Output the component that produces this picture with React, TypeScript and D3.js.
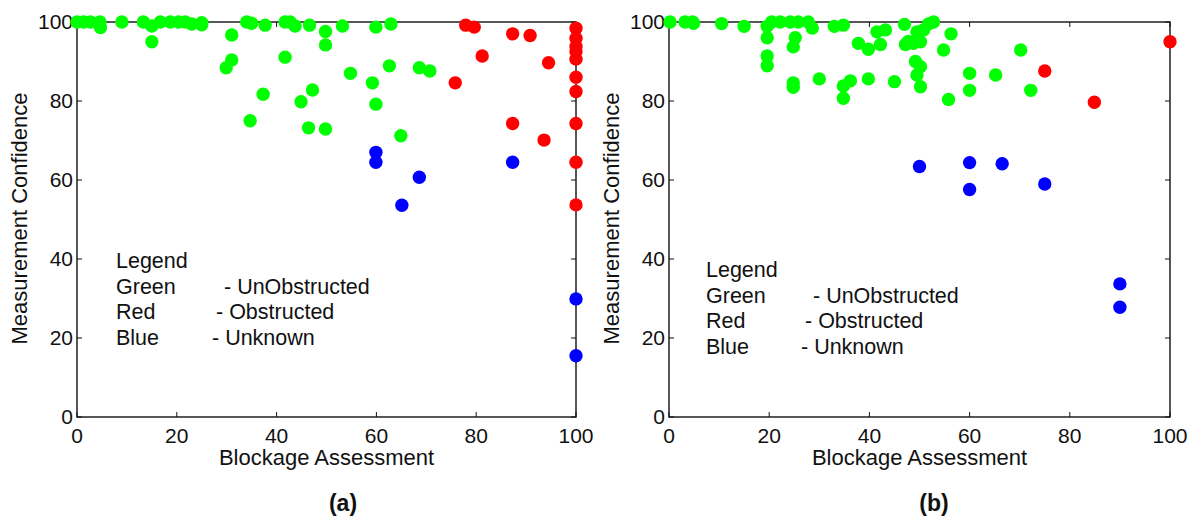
import React, { useEffect, useRef } from 'react';
import * as d3 from 'd3';

// [blockage, confidence] pairs
const leftGreen: [number, number][] = [
  [0, 100], [1.3, 100], [2.7, 100], [4.6, 100], [4.7, 98.6], [9, 100], [13.3, 100], [15, 99], [15, 95],
  [16.7, 100], [18.7, 100], [20.3, 100], [21.7, 100], [23, 99.5], [25, 99.8], [25, 99.3], [29.9, 88.4],
  [31, 90.4], [31, 96.7], [34, 100], [35, 99.7], [37.7, 99.2], [34.7, 75], [37.3, 81.7], [41.7, 100],
  [42.7, 100], [43.7, 99], [41.7, 91.1], [44.9, 79.8], [47.2, 82.8], [46.4, 73.2], [46.6, 99.2],
  [49.8, 97.6], [49.8, 94.2], [49.8, 72.9], [53.2, 99], [59.9, 98.7], [62.9, 99.5], [54.8, 87],
  [59.2, 84.6], [62.6, 88.9], [68.6, 88.4], [70.7, 87.6], [59.9, 79.2], [64.9, 71.2],
];
const leftRed: [number, number][] = [
  [77.9, 99.2], [79.6, 98.7], [87.3, 97], [90.8, 96.6], [81.2, 91.4], [94.5, 89.7], [75.8, 84.6],
  [87.3, 74.3], [93.6, 70.1], [100, 98.4], [100, 95.9], [100, 93.8], [100, 92.5], [100, 90.6],
  [100, 86], [100, 82.4], [100, 74.3], [100, 64.5], [100, 53.7],
];
const leftBlue: [number, number][] = [
  [59.9, 67], [59.9, 64.5], [68.6, 60.7], [65.1, 53.6], [87.3, 64.5], [100, 29.9], [100, 15.5],
];

const rightGreen: [number, number][] = [
  [0.2, 100], [3.2, 100], [4.7, 100], [4.9, 99.7], [10.5, 99.6], [15, 98.9], [19.6, 98.9], [19.6, 96],
  [19.6, 91.4], [19.6, 88.9], [20.5, 100], [22.2, 100], [24.2, 100], [25.8, 100], [27.8, 100],
  [28.6, 98.5], [25.2, 96], [24.8, 93.7], [24.8, 84.6], [24.8, 83.5], [30, 85.6], [33, 98.9],
  [34.8, 99.2], [34.8, 83.8], [34.8, 80.7], [36.2, 85.1], [37.8, 94.6], [39.8, 93.1], [39.8, 85.6],
  [41.5, 97.5], [43.2, 98], [42.2, 94.3], [45, 84.9], [47, 99.4], [47.2, 94.3], [47.8, 95.1],
  [49.5, 97.5], [49.2, 90], [50.2, 88.7], [49.5, 86.6], [50.2, 83.6], [48.8, 94.6], [50.2, 95],
  [50.8, 98], [51.8, 99.5], [52.8, 100], [56.3, 97], [54.8, 92.9], [55.8, 80.4], [60, 87], [60, 82.7],
  [65.2, 86.6], [70.2, 92.9], [72.2, 82.7],
];
const rightRed: [number, number][] = [[100, 95], [75, 87.6], [84.9, 79.7]];
const rightBlue: [number, number][] = [
  [50, 63.4], [60, 64.4], [60, 57.6], [66.5, 64.1], [75, 59], [90, 33.7], [90, 27.8],
];

const tickValues = [0, 20, 40, 60, 80, 100];
const legendLines = [
  ['Legend', ''],
  ['Green', '- UnObstructed'],
  ['Red', '- Obstructed'],
  ['Blue', '- Unknown'],
];

const FONT = '"Liberation Sans", Arial, Helvetica, sans-serif';

const App = () => {
  const svgRef = useRef<SVGSVGElement | null>(null);

  useEffect(() => {
    const svg = d3.select(svgRef.current);
    svg.selectAll('*').remove();

    const panels = [
      {
        left: 77, right: 576, caption: '(a)', captionX: 343,
        legendX: 116, legendY: 268, dashX: [0, 147, 139, 135],
        series: [{ data: leftGreen, color: '#00ff00' }, { data: leftRed, color: '#ff0000' }, { data: leftBlue, color: '#0000ff' }],
        yLabelX: 20,
      },
      {
        left: 669, right: 1170, caption: '(b)', captionX: 934,
        legendX: 706, legendY: 277, dashX: [0, 144, 136, 132],
        series: [{ data: rightGreen, color: '#00ff00' }, { data: rightRed, color: '#ff0000' }, { data: rightBlue, color: '#0000ff' }],
        yLabelX: 612,
      },
    ];
    const top = 22;
    const bottom = 417;

    panels.forEach(p => {
      const x = d3.scaleLinear().domain([0, 100]).range([p.left, p.right]);
      const y = d3.scaleLinear().domain([0, 100]).range([bottom, top]);
      const g = svg.append('g');

      // box
      g.append('rect')
        .attr('x', p.left).attr('y', top)
        .attr('width', p.right - p.left).attr('height', bottom - top)
        .attr('fill', 'none').attr('stroke', '#111').attr('stroke-width', 1.4);

      // inward ticks on all sides
      tickValues.forEach(t => {
        g.append('line').attr('x1', x(t)).attr('x2', x(t)).attr('y1', bottom).attr('y2', bottom - 5).attr('stroke', '#111');
        g.append('line').attr('x1', x(t)).attr('x2', x(t)).attr('y1', top).attr('y2', top + 5).attr('stroke', '#111');
        g.append('line').attr('x1', p.left).attr('x2', p.left + 5).attr('y1', y(t)).attr('y2', y(t)).attr('stroke', '#111');
        g.append('line').attr('x1', p.right).attr('x2', p.right - 5).attr('y1', y(t)).attr('y2', y(t)).attr('stroke', '#111');

        g.append('text')
          .attr('x', x(t)).attr('y', 443)
          .attr('text-anchor', 'middle')
          .style('font-family', FONT).style('font-size', '21px').attr('fill', '#111')
          .text(t);
        g.append('text')
          .attr('x', p.left - 4).attr('y', y(t) + 7)
          .attr('text-anchor', 'end')
          .style('font-family', FONT).style('font-size', '21px').attr('fill', '#111')
          .text(t);
      });

      g.append('text')
        .attr('x', (p.left + p.right) / 2).attr('y', 465)
        .attr('text-anchor', 'middle')
        .style('font-family', FONT).style('font-size', '22px').attr('fill', '#111')
        .text('Blockage Assessment');

      g.append('text')
        .attr('transform', `translate(${p.yLabelX + 7},${(top + bottom) / 2 - 1}) rotate(-90)`)
        .attr('text-anchor', 'middle')
        .style('font-family', FONT).style('font-size', '22px').attr('fill', '#111')
        .text('Measurement Confidence');

      g.append('text')
        .attr('x', p.captionX).attr('y', 511)
        .attr('text-anchor', 'middle')
        .style('font-family', FONT).style('font-size', '23px').style('font-weight', 'bold').attr('fill', '#111')
        .text(p.caption);

      legendLines.forEach(([name, desc], i) => {
        const ly = p.legendY + i * 25.7;
        g.append('text')
          .attr('x', p.legendX).attr('y', ly)
          .style('font-family', FONT).style('font-size', '21.5px').attr('fill', '#111')
          .text(name);
        if (desc) {
          g.append('text')
            .attr('x', p.left + p.dashX[i]).attr('y', ly)
            .style('font-family', FONT).style('font-size', '21.5px').attr('fill', '#111')
            .text(desc);
        }
      });

      p.series.forEach(s => {
        g.append('g')
          .selectAll('circle')
          .data(s.data)
          .join('circle')
          .attr('cx', d => x(d[0]))
          .attr('cy', d => y(d[1]))
          .attr('r', 6.7)
          .attr('fill', s.color);
      });
    });
  }, []);

  return (
    <svg
      ref={svgRef}
      width={1192}
      height={516}
      style={{ position: 'absolute', left: 0, top: 0, background: '#fff' }}
    />
  );
};

export default App;
